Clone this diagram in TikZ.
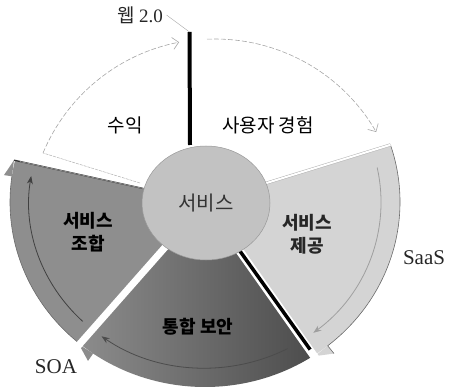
\documentclass[tikz,border=0pt]{standalone}
\usepackage{fontspec}
\setmainfont{Liberation Serif}
\newfontfamily\kr{Noto Sans CJK KR}
\usetikzlibrary{calc,arrows.meta,shapes.geometric}
\definecolor{leftc}{HTML}{8E8E8E}
\definecolor{botc}{HTML}{4C4C4C}
\definecolor{botl}{HTML}{8C8C8C}
\definecolor{rightc}{HTML}{D4D4D4}
\definecolor{circc}{HTML}{C2C2C2}
\definecolor{linec}{HTML}{6A6A6A}
\begin{document}
\begin{tikzpicture}[x=1pt,y=-1pt,
  outerline/.style={draw=linec, line width=0.6pt},
  innerarrow/.style={draw=#1, line width=0.8pt, -{Stealth[length=8pt,width=6pt]}},
  toparc/.style={draw=gray!70, line width=0.6pt, dash pattern=on 5pt off 2pt, -{Straight Barb[length=6pt]}},
  seclabel/.style={font=\kr\fontsize{19}{23}\selectfont, align=center},
  boldlabel/.style={font=\kr\bfseries\fontsize{18}{23}\selectfont, align=center},
  sidelabel/.style={font=\fontsize{21}{23}\selectfont, text=black!85}]
\useasboundingbox (0,0) rectangle (455,390);
\coordinate (O) at (205,202);

% --- left sector: service composition
\fill[leftc] (O) -- ++(130:195 and 185) arc[start angle=130,end angle=193,x radius=195,y radius=185] -- cycle;
\fill[leftc] ($(O)+(188:195 and 185)$) -- ($(O)+(188:203 and 193)$) -- ($(O)+(193:196 and 186)$) -- cycle;
\draw[outerline] ($(O)+(130:195 and 185)$) arc[start angle=130,end angle=188,x radius=195,y radius=185];

% --- bottom sector: integrated security
\shade[left color=botl, right color=botc] (O) -- ++(56:195 and 185) arc[start angle=56,end angle=130,x radius=195,y radius=185] -- cycle;
\fill[botl] ($(O)+(125:195 and 185)$) -- ($(O)+(125:204 and 194)$) -- ($(O)+(130:196 and 186)$) -- cycle;

% --- right sector: service provision
\fill[rightc] (O) -- ++(-18:195 and 185) arc[start angle=-18,end angle=56,x radius=195,y radius=185] -- cycle;
\fill[rightc] ($(O)+(51:195 and 185)$) -- ($(O)+(51:205 and 195)$) -- ($(O)+(56:196 and 186)$) -- cycle;
\draw[outerline] ($(O)+(-18:195 and 185)$) arc[start angle=-18,end angle=51,x radius=195,y radius=185] -- ($(O)+(51:205 and 195)$);

% --- inner arrows
\draw[innerarrow=black!75] ($(O)+(134:176 and 166)$) arc[start angle=134,end angle=189,x radius=176,y radius=166];
\draw[innerarrow=black!70] ($(O)+(62:176 and 166)$) arc[start angle=62,end angle=126,x radius=176,y radius=166];
\draw[innerarrow=gray!75] ($(O)+(-12:176 and 166)$) arc[start angle=-12,end angle=52,x radius=176,y radius=166];

% --- gaps and edges
\draw[white, line width=7pt] (O) -- ++(130:205 and 195);
\draw[white, line width=8pt] (O) -- ++(56:215 and 205);
\draw[black, line width=3.5pt, shift={(-4.6,3.1)}] (O) -- ++(56:188 and 178);
\draw[black!80, line width=1.3pt] (O) -- ++(193:196 and 186);
\draw[gray!60, line width=0.5pt, shift={(0.8,-3)}] (O) -- ++(193:190 and 180);
\draw[gray!60, double=white, double distance=2pt, line width=0.5pt] (O) -- ++(-18:195 and 185);

% --- top white sectors
\draw[gray!60, line width=0.5pt, dash pattern=on 3pt off 1pt] (140,183) -- (43,153);
\draw[toparc] (43,153) arc[start angle=202.7,end angle=259,radius=186];
\draw[toparc] (207,39.2) arc[start angle=267.5,end angle=330,radius=186];
\coordinate (bartop) at (189.5,32);
\draw[black, line width=4pt] (bartop) -- (190,145);
\draw[gray!70, double=white, double distance=1.2pt, line width=0.4pt] (207,145) -- (207,40);

% --- centre circle
\node (svc) [ellipse, fill=circc, draw=gray!80, line width=0.5pt, minimum width=128pt, minimum height=114pt, inner sep=0pt, font=\kr\fontsize{20}{23}\selectfont, text=black!80] at (206,203) {서비스};

% --- labels
\node (rev) [seclabel] at (125,125) {수익};
\node (ux) [seclabel] at (268,125) {사용자 경험};
\node (comp) [boldlabel] at (88,232) {서비스\\조합};
\node (prov) [boldlabel, text=black!85] at (307,234) {서비스\\제공};
\node (sec) [boldlabel, text=black] at (198,327) {통합 보안};
\node (web) [sidelabel, font=\fontsize{19}{21}\selectfont] at (140,15) {{\kr 웹} 2.0};
\draw[gray!70, line width=0.4pt] (web.east) -- (bartop);
\node (saas) [sidelabel] at (424,258) {SaaS};
\node (soa) [sidelabel] at (56,367) {SOA};
\end{tikzpicture}
\end{document}
